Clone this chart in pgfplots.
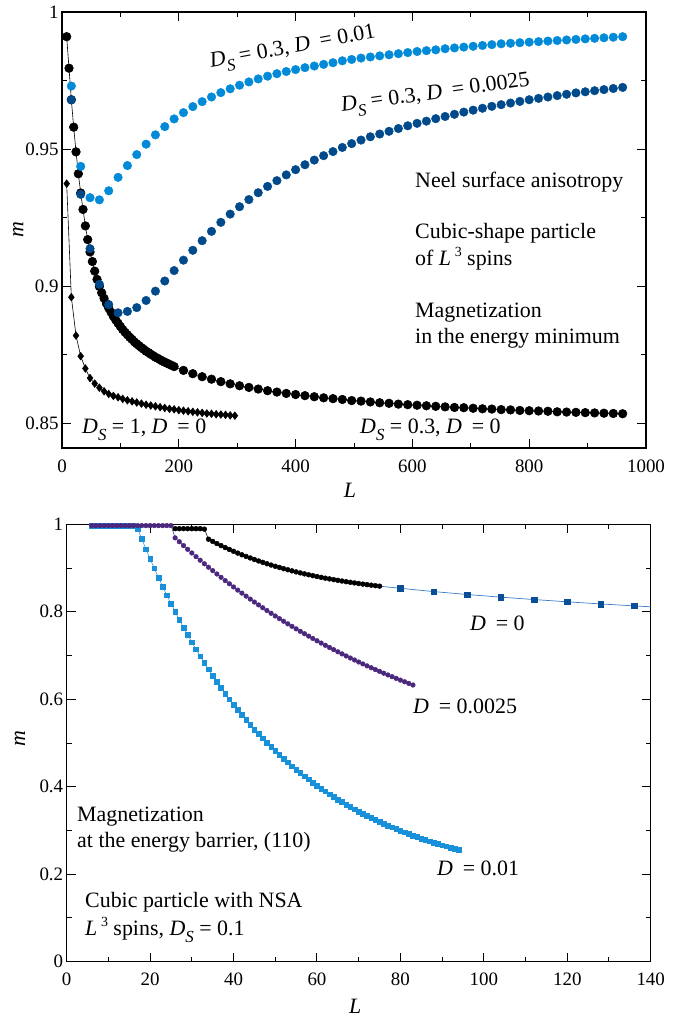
\documentclass[border=0pt]{standalone}
\usepackage{fontspec}
\setmainfont{Liberation Serif}
\usepackage{pgfplots}
\pgfplotsset{compat=1.18}

\definecolor{lblue}{RGB}{0,138,216}
\definecolor{dblue}{RGB}{0,74,140}
\definecolor{purp}{RGB}{75,40,125}
\definecolor{sqblue}{RGB}{24,144,218}
\definecolor{sqdark}{RGB}{10,78,150}
\definecolor{linblue}{RGB}{58,123,200}

\newcommand{\ann}{\fontsize{22}{26}\selectfont}
\newcommand{\Ds}{\textit{D}\raisebox{-7bp}{\fontsize{17}{17}\selectfont\textit{S}}}
\newcommand{\DD}{\textit{D}\hspace{0.45em}}
\newcommand{\Lcube}{\textit{L}\,\raisebox{9bp}{\fontsize{14}{14}\selectfont 3}}

\pgfplotsset{
 myaxis/.style={
  scale only axis, axis line style={line width=1.2pt},
  tick style={line width=1pt, black}, tick align=inside,
  major tick length=9bp, minor tick length=5bp,
  ticklabel style={font=\fontsize{19}{22}\selectfont},
  /pgf/number format/assume math mode=true,
  label style={font=\fontsize{22}{26}\selectfont},
  xticklabel style={yshift=-8bp},
 }
}

\begin{document}
\begin{tikzpicture}
\useasboundingbox (0,0) rectangle (698bp,-1021bp);

% ---------------- top panel ----------------
\begin{axis}[myaxis, at={(62bp,-448bp)}, anchor=south west,
  width=584bp, height=436bp,
  xmin=0, xmax=1000, ymin=0.841, ymax=1,
  xtick={0,200,400,600,800,1000}, xticklabels={0,200,400,600,800,1000},
  minor xtick={100,300,500,700,900},
  ytick={0.85,0.9,0.95,1}, yticklabels={0.85,0.9,0.95,1},
  minor ytick={0.875,0.925,0.975},
  xlabel={\textit{L}}, ylabel={\textit{m}},
  xlabel style={at={(axis description cs:0.493,-0.098)}, anchor=center},
  ylabel style={at={(axis description cs:-0.075,0.5)}, anchor=center},
]
% D_S = 0.3, D = 0
\addplot[black, line width=0.6pt, mark=*, mark size=4.3bp] coordinates {
(8,0.991) (12,0.9795) (16,0.968) (20,0.958) (24,0.949) (28,0.941) (32,0.934) (36,0.928)
(40,0.922) (44,0.917) (48,0.9125) (52,0.909) (56,0.9055) (60,0.9025) (64,0.8999) (68,0.8976)
(72,0.8956) (76,0.8937) (80,0.8920) (84,0.8905) (88,0.8890) (92,0.8877) (96,0.8865) (100,0.8853)
(104,0.8842) (108,0.8832) (112,0.8823) (116,0.8814) (120,0.8806) (124,0.8797) (128,0.8790) (132,0.8783)
(136,0.8776) (140,0.8770) (144,0.8763) (148,0.8758) (152,0.8752) (156,0.8747) (160,0.8741) (164,0.8737)
(168,0.8732) (172,0.8727) (176,0.8723) (180,0.8719) (184,0.8715) (188,0.8711) (192,0.8707)
(208,0.8693) (224,0.8681) (240,0.8670) (256,0.8661) (272,0.8652) (288,0.8644) (304,0.8637) (320,0.8631)
(336,0.8625) (352,0.8619) (368,0.8614) (384,0.8609) (400,0.8605) (416,0.8601) (432,0.8597) (448,0.8593)
(464,0.8590) (480,0.8587) (496,0.8583) (512,0.8581) (528,0.8578) (544,0.8575) (560,0.8573) (576,0.8570)
(592,0.8568) (608,0.8566) (624,0.8564) (640,0.8562) (656,0.8560) (672,0.8558) (688,0.8557) (704,0.8555)
(720,0.8553) (736,0.8552) (752,0.8550) (768,0.8549) (784,0.8547) (800,0.8546) (816,0.8545) (832,0.8544)
(848,0.8542) (864,0.8541) (880,0.8540) (896,0.8539) (912,0.8538) (928,0.8537) (944,0.8536) (960,0.8535)
};
% D_S = 1, D = 0
\addplot[black, line width=0.6pt, mark=diamond*, mark size=3.8bp] coordinates {
(8,0.9374) (16,0.896) (24,0.882) (32,0.8745) (40,0.870) (48,0.8665) (56,0.8645) (64,0.863)
(72,0.8617) (80,0.8607) (88,0.8600) (96,0.8595) (104,0.8589) (112,0.8584) (120,0.8580) (128,0.8576)
(136,0.8572) (144,0.8568) (152,0.8565) (160,0.8562) (168,0.8559) (176,0.8556) (184,0.8553) (192,0.8551)
(200,0.8548) (208,0.8546) (216,0.8544) (224,0.8542) (232,0.8540) (240,0.8538) (248,0.8536) (256,0.8535)
(264,0.8533) (272,0.8532) (280,0.8531) (288,0.8529) (296,0.8528)
};
% D_S = 0.3, D = 0.01
\addplot[only marks, lblue, mark=*, mark size=4.3bp] coordinates {
(16,0.973) (32,0.9437) (48,0.9323) (64,0.9315) (80,0.9348) (96,0.9397) (112,0.9440) (128,0.9480)
(144,0.9518) (160,0.9552) (176,0.9582) (192,0.9610) (208,0.9633) (224,0.9655) (240,0.9673) (256,0.9690)
(272,0.9706) (288,0.9720) (304,0.9733) (320,0.9745) (336,0.9756) (352,0.9766) (368,0.9775) (384,0.9783)
(400,0.9790) (416,0.9797) (432,0.9803) (448,0.9809) (464,0.9815) (480,0.9822) (496,0.9827) (512,0.9832)
(528,0.9836) (544,0.9840) (560,0.9844) (576,0.9848) (592,0.9852) (608,0.9856) (624,0.9859) (640,0.9862)
(656,0.9866) (672,0.9869) (688,0.9872) (704,0.9875) (720,0.9878) (736,0.9881) (752,0.9884) (768,0.9886)
(784,0.9888) (800,0.9890) (816,0.9892) (832,0.9894) (848,0.9896) (864,0.9898) (880,0.9900) (896,0.9902)
(912,0.9904) (928,0.9906) (944,0.9908) (960,0.9910)
};
% D_S = 0.3, D = 0.0025
\addplot[only marks, dblue, mark=*, mark size=4.3bp] coordinates {
(16,0.968) (32,0.9335) (48,0.9137) (64,0.9007) (80,0.8933) (96,0.8903) (112,0.8908) (128,0.8922)
(144,0.8948) (160,0.8982) (176,0.9019) (192,0.9057) (208,0.9095) (224,0.9131) (240,0.9166) (256,0.9200)
(272,0.9233) (288,0.9263) (304,0.9290) (320,0.9316) (336,0.9341) (352,0.9364) (368,0.9385) (384,0.9406)
(400,0.9425) (416,0.9443) (432,0.9460) (448,0.9476) (464,0.9491) (480,0.9506) (496,0.9520) (512,0.9533)
(528,0.9545) (544,0.9555) (560,0.9565) (576,0.9575) (592,0.9585) (608,0.9594) (624,0.9602) (640,0.9611)
(656,0.9619) (672,0.9627) (688,0.9635) (704,0.9642) (720,0.9649) (736,0.9656) (752,0.9662) (768,0.9668)
(784,0.9674) (800,0.9680) (816,0.9685) (832,0.9690) (848,0.9695) (864,0.9700) (880,0.9705) (896,0.9709)
(912,0.9713) (928,0.9717) (944,0.9721) (960,0.9725)
};
\end{axis}

% ---------------- bottom panel ----------------
\begin{axis}[myaxis, at={(66.7bp,-961.7bp)}, anchor=south west,
  width=584bp, height=437.4bp,
  xmin=0, xmax=140, ymin=0, ymax=1,
  xtick={0,20,...,140}, minor xtick={10,30,...,130},
  ytick={0,0.2,0.4,0.6,0.8,1}, yticklabels={0,0.2,0.4,0.6,0.8,1},
  minor ytick={0.1,0.3,0.5,0.7,0.9},
  xlabel={\textit{L}}, ylabel={\textit{m}},
  xlabel style={at={(axis description cs:0.494,-0.103)}, anchor=center},
  ylabel style={at={(axis description cs:-0.08,0.51)}, anchor=center},
]
% D = 0
\addplot[black, line width=0.5pt, mark=*, mark size=2.4bp] coordinates {
(26,0.990) (27,0.990) (28,0.990) (29,0.990) (30,0.990) (31,0.990) (32,0.990) (33,0.989)
(34,0.9660) (35,0.9609) (36,0.9560) (37,0.9513) (38,0.9468) (39,0.9425) (40,0.9383) (41,0.9342)
(42,0.9303) (43,0.9266) (44,0.9230) (45,0.9195) (46,0.9162) (47,0.9130) (48,0.9099) (49,0.9069)
(50,0.9040) (51,0.9013) (52,0.8986) (53,0.8961) (54,0.8936) (55,0.8912) (56,0.8889) (57,0.8867)
(58,0.8846) (59,0.8826) (60,0.8806) (61,0.8787) (62,0.8769) (63,0.8752) (64,0.8735) (65,0.8719)
(66,0.8703) (67,0.8688) (68,0.8674) (69,0.8660) (70,0.8646) (71,0.8633) (72,0.8621) (73,0.8609)
(74,0.8597) (75,0.8586)
};
% D = 0 continuation (line)
\addplot[linblue, line width=0.7pt] coordinates {
(75,0.8586) (80,0.8537) (88,0.8462) (96,0.8395) (104,0.8335) (112,0.8280) (120,0.8228) (128,0.8180) (136,0.8135) (144,0.8093)
};
\addplot[only marks, sqdark, mark=square*, mark size=2.8bp] coordinates {
(80,0.8537) (88,0.8462) (96,0.8395) (104,0.8335) (112,0.8280) (120,0.8228) (128,0.8180) (136,0.8135) (144,0.8093)
};
% D = 0.01
\addplot[sqblue, line width=0.5pt, mark=square*, mark size=2.3bp] coordinates {
(6,0.997) (7,0.997) (8,0.997) (9,0.997) (10,0.997) (11,0.997) (12,0.997) (13,0.997) (14,0.997) (15,0.997) (16,0.997)
(17,0.9900) (18,0.9663) (19,0.9433) (20,0.9210) (21,0.8993) (22,0.8782) (23,0.8578) (24,0.8380)
(25,0.8187) (26,0.8000) (27,0.7818) (28,0.7641) (29,0.7470) (30,0.7303) (31,0.7142) (32,0.6984)
(33,0.6832) (34,0.6683) (35,0.6540) (36,0.6399) (37,0.6264) (38,0.6132) (39,0.6004) (40,0.5880)
(41,0.5759) (42,0.5642) (43,0.5528) (44,0.5418) (45,0.5310) (46,0.5206) (47,0.5105) (48,0.5006)
(49,0.4911) (50,0.4818) (51,0.4728) (52,0.4641) (53,0.4556) (54,0.4473) (55,0.4393) (56,0.4315)
(57,0.4240) (58,0.4167) (59,0.4095) (60,0.4026) (61,0.3959) (62,0.3894) (63,0.3830) (64,0.3769)
(65,0.3709) (66,0.3651) (67,0.3594) (68,0.3540) (69,0.3487) (70,0.3435) (71,0.3385) (72,0.3337)
(73,0.3289) (74,0.3243) (75,0.3199) (76,0.3156) (77,0.3114) (78,0.3073) (79,0.3033) (80,0.2995)
(81,0.2957) (82,0.2921) (83,0.2886) (84,0.2851) (85,0.2818) (86,0.2786) (87,0.2755) (88,0.2724)
(89,0.2695) (90,0.2666) (91,0.2638) (92,0.2611) (93,0.2585) (94,0.2559)
};
% D = 0.0025
\addplot[purp, line width=0.5pt, mark=*, mark size=2.3bp] coordinates {
(6,0.997) (7,0.997) (8,0.997) (9,0.997) (10,0.997) (11,0.997) (12,0.997) (13,0.997) (14,0.997) (15,0.997)
(16,0.997) (17,0.997) (18,0.997) (19,0.997) (20,0.997) (21,0.997) (22,0.997) (23,0.997) (24,0.997) (25,0.997)
(26,0.9690) (27,0.9601) (28,0.9514) (29,0.9428) (30,0.9344) (31,0.9261) (32,0.9179) (33,0.9098)
(34,0.9019) (35,0.8941) (36,0.8864) (37,0.8788) (38,0.8713) (39,0.8640) (40,0.8568) (41,0.8496)
(42,0.8426) (43,0.8358) (44,0.8290) (45,0.8223) (46,0.8157) (47,0.8092) (48,0.8029) (49,0.7966)
(50,0.7904) (51,0.7843) (52,0.7784) (53,0.7725) (54,0.7667) (55,0.7610) (56,0.7553) (57,0.7498)
(58,0.7444) (59,0.7390) (60,0.7337) (61,0.7285) (62,0.7234) (63,0.7184) (64,0.7134) (65,0.7085)
(66,0.7037) (67,0.6990) (68,0.6943) (69,0.6898) (70,0.6852) (71,0.6808) (72,0.6764) (73,0.6721)
(74,0.6679) (75,0.6637) (76,0.6596) (77,0.6556) (78,0.6516) (79,0.6477) (80,0.6438) (81,0.6400)
(82,0.6363) (83,0.6326)
};
\end{axis}

% ---------------- annotations ----------------
\begin{scope}[every node/.style={inner sep=0pt, font=\ann}]
% top
\node[anchor=base west, rotate=10.5] at (211bp,-68bp) {\Ds\ = 0.3, \DD= 0.01};
\node[anchor=base west, rotate=8] at (342bp,-112bp) {\Ds\ = 0.3, \DD= 0.0025};
\node[anchor=base west] at (415bp,-187bp) {Neel surface anisotropy};
\node[anchor=base west] at (415bp,-238bp) {Cubic-shape particle};
\node[anchor=base west] at (415bp,-265bp) {of \Lcube\ spins};
\node[anchor=base west] at (415bp,-317bp) {Magnetization};
\node[anchor=base west] at (415bp,-343bp) {in the energy minimum};
\node[anchor=base west] at (82bp,-433bp) {\Ds\ = 1, \DD= 0};
\node[anchor=base west] at (360bp,-433bp) {\Ds\ = 0.3, \DD= 0};
% bottom
\node[anchor=base west] at (470bp,-630bp) {\DD= 0};
\node[anchor=base west] at (413bp,-713bp) {\DD= 0.0025};
\node[anchor=base west] at (437bp,-875bp) {\DD= 0.01};
\node[anchor=base west] at (77bp,-821.7bp) {Magnetization};
\node[anchor=base west] at (77bp,-847.3bp) {at the energy barrier, (110)};
\node[anchor=base west] at (85bp,-907bp) {Cubic particle with NSA};
\node[anchor=base west] at (85bp,-935bp) {\Lcube\ spins, \Ds\ = 0.1};
\end{scope}
\end{tikzpicture}
\end{document}
